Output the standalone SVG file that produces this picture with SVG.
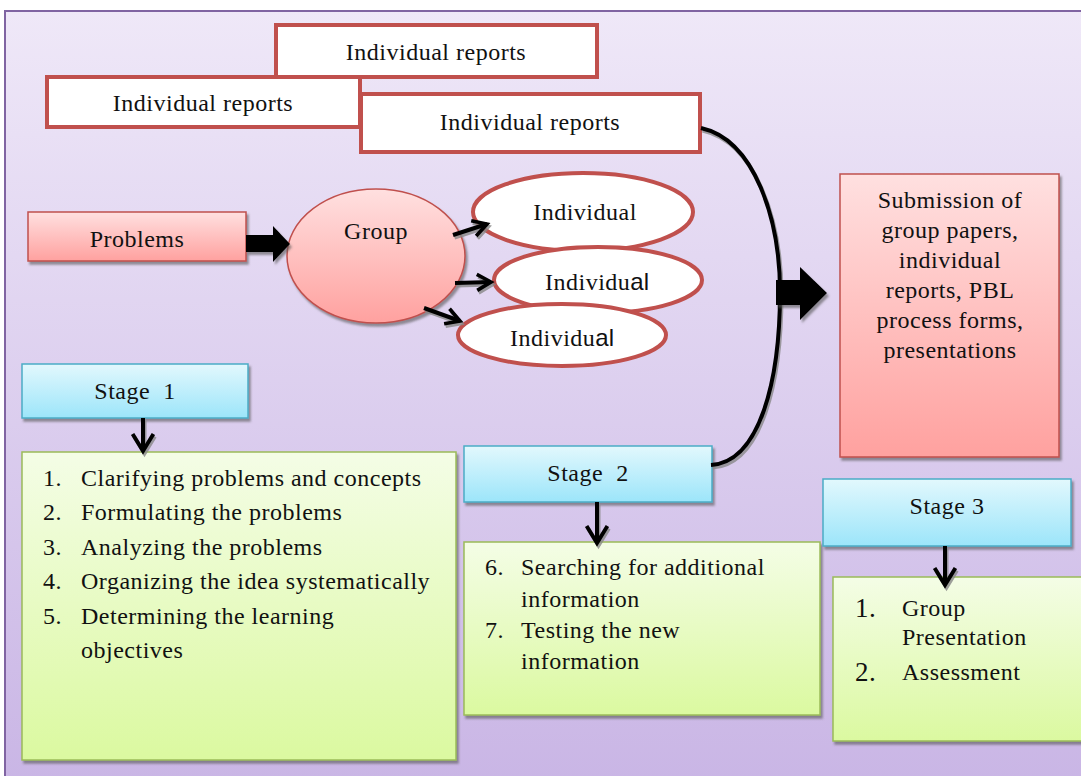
<svg xmlns="http://www.w3.org/2000/svg" width="1081" height="776" viewBox="0 0 1081 776">
<defs>
<linearGradient id="bg" x1="0" y1="0" x2="0" y2="1"><stop offset="0" stop-color="#efe8f8"/><stop offset="1" stop-color="#c9b5e5"/></linearGradient>
<linearGradient id="pink" x1="0" y1="0" x2="0" y2="1"><stop offset="0" stop-color="#ffe0e0"/><stop offset="1" stop-color="#ffa19f"/></linearGradient>
<linearGradient id="blue" x1="0" y1="0" x2="0" y2="1"><stop offset="0" stop-color="#e2f8fd"/><stop offset="1" stop-color="#9ce5fa"/></linearGradient>
<linearGradient id="green" x1="0" y1="0" x2="0" y2="1"><stop offset="0" stop-color="#f4fde6"/><stop offset="1" stop-color="#dbf9a0"/></linearGradient>
<filter id="sh" x="-10%" y="-10%" width="130%" height="130%"><feDropShadow dx="2" dy="3" stdDeviation="0.8" flood-color="#555" flood-opacity="0.6"/></filter>
<marker id="chev" viewBox="0 0 10 10" refX="8" refY="5" markerWidth="5" markerHeight="5" orient="auto" markerUnits="strokeWidth"><path d="M1,1 L8,5 L1,9" fill="none" stroke="#000" stroke-width="1.8"/></marker>
<marker id="chevs" viewBox="0 0 10 10" refX="8" refY="5" markerWidth="5" markerHeight="5" orient="auto" markerUnits="strokeWidth"><path d="M1,1 L8,5 L1,9" fill="none" stroke="#888" stroke-width="1.8"/></marker>
<marker id="chevL" viewBox="0 0 10 10" refX="8" refY="5" markerWidth="6.5" markerHeight="6.5" orient="auto" markerUnits="strokeWidth"><path d="M1.5,1 L8,5 L1.5,9" fill="none" stroke="#000" stroke-width="1.5"/></marker>
<marker id="chevLs" viewBox="0 0 10 10" refX="8" refY="5" markerWidth="6.5" markerHeight="6.5" orient="auto" markerUnits="strokeWidth"><path d="M1.5,1 L8,5 L1.5,9" fill="none" stroke="#888" stroke-width="1.5"/></marker>
</defs>
<style>
text{font-family:"Liberation Serif","Times New Roman",serif;fill:#111;font-size:24px;letter-spacing:0.5px;}
.mid{text-anchor:middle;}
.rep{fill:#fff;stroke:#c0504d;stroke-width:4;}
.pk{fill:url(#pink);stroke:#c0504d;stroke-width:1.5;filter:url(#sh);}
.bl{fill:url(#blue);stroke:#4bacc6;stroke-width:1.5;filter:url(#sh);}
.gr{fill:url(#green);stroke:#9bbb59;stroke-width:1.5;filter:url(#sh);}
.ind{fill:#fff;stroke:#c0504d;stroke-width:4;}
.sans{font-family:"Liberation Sans",Arial,sans-serif;letter-spacing:0;}
.ln{fill:none;stroke:#000;stroke-width:4;}
.lns{fill:none;stroke:#888;stroke-width:4;opacity:0.8;}
.big{font-size:27px;}
</style>
<rect x="0" y="0" width="1081" height="776" fill="#fff"/>
<rect x="5" y="11" width="1090" height="780" fill="url(#bg)" stroke="#8064a2" stroke-width="2"/>

<g id="report-a"><rect class="rep" x="276" y="25" width="321" height="52"/><text class="mid" x="436" y="60">Individual reports</text></g>
<g id="report-b"><rect class="rep" x="47" y="77" width="313" height="50"/><text class="mid" x="203" y="111">Individual reports</text></g>
<g id="report-c"><rect class="rep" x="361" y="94" width="339" height="58"/><text class="mid" x="530" y="130">Individual reports</text></g>

<g id="problems"><rect class="pk" x="28" y="212" width="218" height="49"/><text class="mid" x="137" y="247">Problems</text></g>
<g id="group"><ellipse cx="376" cy="256" rx="89" ry="67" fill="url(#pink)" stroke="#c0504d" stroke-width="1.5" filter="url(#sh)"/><text class="mid" x="376" y="239">Group</text></g>
<g id="individual-1"><ellipse class="ind" cx="583" cy="212" rx="110" ry="39"/><text class="mid" x="585" y="220">Individual</text></g>
<g id="individual-2"><ellipse class="ind" cx="598" cy="280" rx="104" ry="33"/><text class="mid" x="597" y="290">Individu<tspan class="sans">al</tspan></text></g>
<g id="individual-3"><ellipse class="ind" cx="562" cy="335" rx="104" ry="31"/><text class="mid" x="562" y="346">Individu<tspan class="sans">al</tspan></text></g>

<g id="submission"><rect class="pk" x="840" y="174" width="219" height="283"/>
<text class="mid" x="950" y="208">Submission of</text>
<text class="mid" x="950" y="238">group papers,</text>
<text class="mid" x="950" y="268">individual</text>
<text class="mid" x="950" y="298">reports, PBL</text>
<text class="mid" x="950" y="328">process forms,</text>
<text class="mid" x="950" y="358">presentations</text></g>

<g id="stage1"><rect class="bl" x="22" y="364" width="226" height="54"/><text class="mid" x="135" y="399" xml:space="preserve">Stage  1</text></g>
<g id="stage1-list"><rect class="gr" x="22" y="452" width="434" height="308"/>
<text x="43" y="486">1.</text><text x="81" y="486">Clarifying problems and concepts</text>
<text x="43" y="520">2.</text><text x="81" y="520">Formulating the problems</text>
<text x="43" y="555">3.</text><text x="81" y="555">Analyzing the problems</text>
<text x="43" y="589">4.</text><text x="81" y="589">Organizing the idea systematically</text>
<text x="43" y="624">5.</text><text x="81" y="624">Determining the learning</text>
<text x="81" y="658">objectives</text></g>

<g id="stage2"><rect class="bl" x="464" y="446" width="248" height="56"/><text class="mid" x="588" y="481" xml:space="preserve">Stage  2</text></g>
<g id="stage2-list"><rect class="gr" x="464" y="542" width="356" height="173"/>
<text x="485" y="575">6.</text><text x="521" y="575">Searching for additional</text>
<text x="521" y="607">information</text>
<text x="485" y="638">7.</text><text x="521" y="638">Testing the new</text>
<text x="521" y="669">information</text></g>

<g id="stage3"><rect class="bl" x="823" y="479" width="248" height="67"/><text class="mid" x="947" y="514">Stage 3</text></g>
<g id="stage3-list"><rect class="gr" x="833" y="577" width="260" height="164"/>
<text class="big" x="855" y="617">1.</text><text x="902" y="616">Group</text>
<text x="902" y="645">Presentation</text>
<text class="big" x="855" y="681">2.</text><text x="902" y="680">Assessment</text></g>

<g id="connectors">
<g transform="translate(1.5,2.5)">
<path class="lns" d="M453,235 L487,224" marker-end="url(#chevs)"/>
<path class="lns" d="M455,283 L491,282" marker-end="url(#chevs)"/>
<path class="lns" d="M424,308 L460,321" marker-end="url(#chevs)"/>
<path class="lns" d="M701,128 C755,140 780,220 780,292 C780,380 760,462 711,465"/>
<path class="lns" d="M143,418 V451" marker-end="url(#chevLs)"/>
<path class="lns" d="M597,502 V543" marker-end="url(#chevLs)"/>
<path class="lns" d="M945,546 V585" marker-end="url(#chevLs)"/>
</g>
<path d="M246,235 H273 V226 L290,244 L273,262 V252 H246 Z" fill="#000" filter="url(#sh)"/>
<path class="ln" d="M453,235 L487,224" marker-end="url(#chev)"/>
<path class="ln" d="M455,283 L491,282" marker-end="url(#chev)"/>
<path class="ln" d="M424,308 L460,321" marker-end="url(#chev)"/>
<path class="ln" d="M701,128 C755,140 780,220 780,292 C780,380 760,462 711,465"/>
<path d="M776,280 H800 V267 L827,293 L800,320 V305 H776 Z" fill="#000" filter="url(#sh)"/>
<path class="ln" d="M143,418 V451" marker-end="url(#chevL)"/>
<path class="ln" d="M597,502 V543" marker-end="url(#chevL)"/>
<path class="ln" d="M945,546 V585" marker-end="url(#chevL)"/>
</g>
</svg>
